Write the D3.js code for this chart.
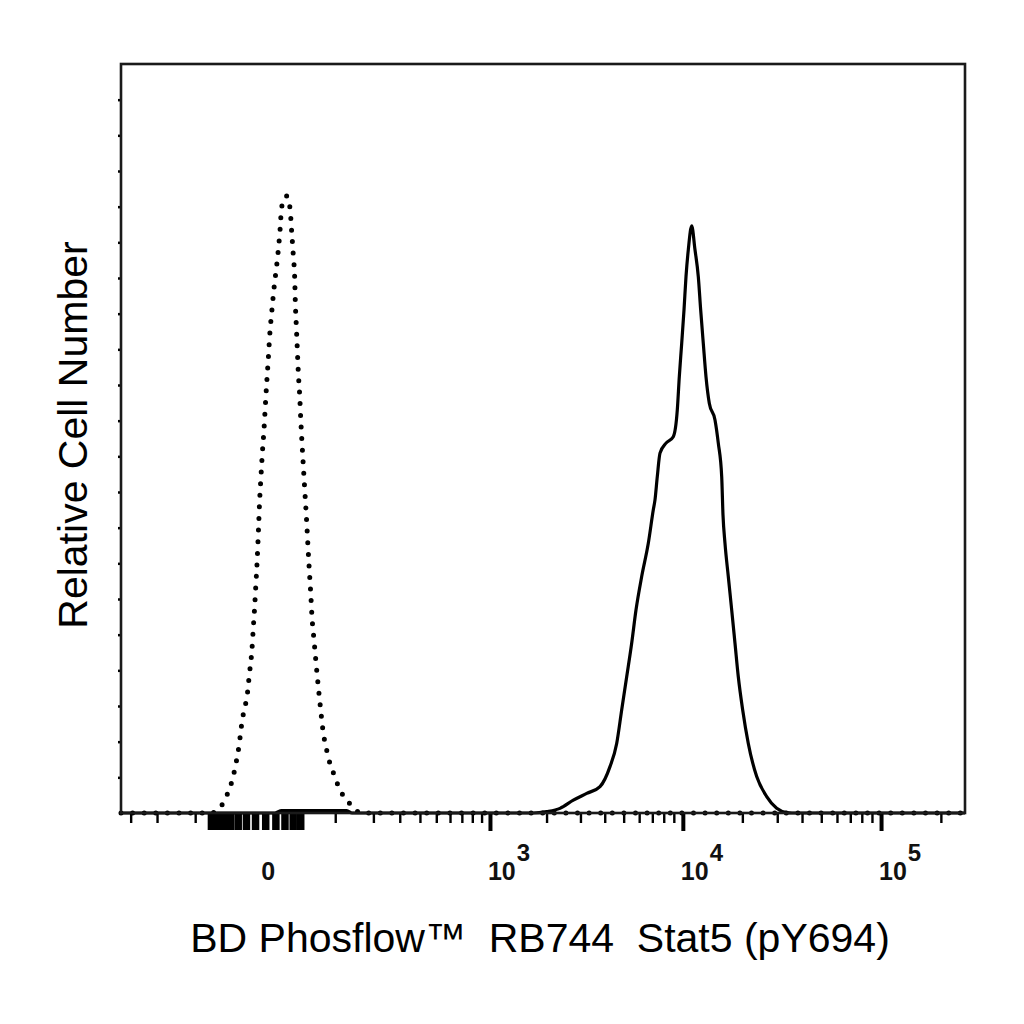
<!DOCTYPE html>
<html><head><meta charset="utf-8">
<script src="https://cdn.jsdelivr.net/npm/d3@7"></script>
<style>body{margin:0;background:#fff}svg{display:block}</style>
</head><body>
<svg id="chart" width="1024" height="1024"></svg>
<script>
// Unstimulated (dotted) histogram: fluorescence values and relative counts
const unstimValues = [-345,-68.1,-63.1,-50.0,-42.6,-37.5,-33.5,-28.4,-24.7,-21.7,-18.8,-16.2,-13.5,-11.8,-10.3,-9.0,-7.7,-6.5,-5.3,-4.0,-2.7,-1.1,0.1,1.4,2.9,4.3,6.3,8.6,11.4,13.3,15.0,16.8,22.6,26.6,28.7,30.8,32.6,33.4,34.7,36.0,37.4,39.3,40.7,42.5,44.4,46.4,49.4,51.3,53.3,55.5,57.5,60.8,64.1,68.0,72.1,76.8,81.8,86.9,94.8,103.1,114.0,129.4,149.0,159.8,264500];
const unstimCounts = [0,0,0.4,2.9,6.0,9.0,12.6,18.8,25.5,29.4,32.5,38.7,45.1,51.9,58.3,64.8,71.5,79.4,87.8,94.5,100.9,107.7,114.1,120.6,127.3,134.0,140.5,147.2,153.6,158.4,163.5,169.9,173.0,169.6,162.9,156.2,149.7,143.0,136.5,130.1,123.4,116.9,110.5,103.7,97.3,90.8,81.3,74.6,68.1,61.7,55.0,48.5,42.1,35.3,28.9,22.4,18.5,15.1,11.8,8.7,5.6,3.1,0.8,0,0];

// Stimulated (solid) histogram
const stimValues = [-345,9.6,16.8,125.6,138.6,1704,2003,2350,2755,3232,3783,4256,4606,4885,5181,5494,5779,6179,6677,7080,7222,7418,7657,8214,8946,9374,9595,9868,10136,10376,10658,11089,11524,11976,12316,12694,13102,13614,14549,15118,15729,15968,16344,16984,17672,18360,19080,20080,21432,23632,26544,29808,33480,35600,264500];
const stimCounts = [0,0,0.7,0.7,0,0,0.4,1.3,3.6,5.5,7.4,13.0,19.5,28.9,38.2,47.6,56.9,66.3,75.6,85.0,87.8,94.3,100.9,103.7,105.5,113.0,122.3,131.7,141.0,150.4,157.9,164.6,157.9,150.4,141.0,131.7,122.3,114.9,110.2,103.7,94.3,83.6,75.6,66.3,56.9,47.6,38.2,28.9,19.5,10.2,4.6,1.3,0.1,0,0];

// Axis ticks
const majorTickValues = [1000, 10000, 100000];
const zeroTickValues = [-70,-60,-50,-40,-30,-20,-10,0,10,20,30,40];
const minorTickValues = [-300,-200,-100,100,200,300,400,500,600,700,800,900,2000,3000,4000,5000,6000,7000,8000,9000,20000,30000,40000,50000,60000,70000,80000,90000,200000];
const labelValues = [0, 1000, 10000, 100000];
const labelBase = ["0", "10", "10", "10"];
const labelExp = ["", "3", "4", "5"];
const yTickValues = [10,20,30,40,50,60,70,80,90,100,110,120,130,140,150,160,170,180,190,200];

const xTitle = "BD Phosflow\u2122  RB744  Stat5 (pY694)";
const yTitle = "Relative Cell Number";

const svg = d3.select("#chart");
const L = 121, R = 965, T = 64, B = 813;
const font = "'Liberation Sans', Arial, Helvetica, sans-serif";

const x = d3.scaleSymlog().constant(80).domain([-345, 264500]).range([L, R]);
const y = d3.scaleLinear().domain([0, 210]).range([B, T]);

// ticks
const gx = svg.append("g").attr("transform", `translate(0,${B})`);
gx.append("g").call(d3.axisBottom(x).tickValues(minorTickValues).tickSize(10).tickFormat(""))
  .call(g => g.select(".domain").remove())
  .selectAll("line").attr("stroke", "#000").attr("stroke-width", 2.4);
gx.append("g").call(d3.axisBottom(x).tickValues(zeroTickValues).tickSize(17).tickFormat(""))
  .call(g => g.select(".domain").remove())
  .selectAll("line").attr("stroke", "#000").attr("stroke-width", 7.5);
gx.append("g").call(d3.axisBottom(x).tickValues(majorTickValues).tickSize(18).tickFormat(""))
  .call(g => g.select(".domain").remove())
  .selectAll("line").attr("stroke", "#000").attr("stroke-width", 4);

svg.append("g").attr("transform", `translate(${L},0)`)
  .call(d3.axisLeft(y).tickValues(yTickValues).tickSize(3).tickFormat(""))
  .call(g => g.select(".domain").remove())
  .selectAll("line").attr("stroke", "#000").attr("stroke-width", 2.5);

// tick labels
labelValues.forEach((v, i) => {
  const t = svg.append("text")
    .attr("y", 880)
    .attr("font-family", font).attr("font-size", 25).attr("font-weight", "bold").attr("fill", "#111");
  if (labelExp[i] === "") {
    t.attr("x", x(v) + 3).attr("text-anchor", "middle").text(labelBase[i]);
  } else {
    t.attr("x", x(v) - 2).attr("text-anchor", "start");
    t.append("tspan").text(labelBase[i]);
    t.append("tspan").attr("dy", -19).attr("dx", 1).attr("font-size", 24).text(labelExp[i]);
  }
});

// curves
const line = d3.line().x(d => x(d[0])).y(d => y(d[1])).curve(d3.curveMonotoneX);
const unstim = unstimValues.map((v, i) => [v, unstimCounts[i]]);
const stim = stimValues.map((v, i) => [v, stimCounts[i]]);

svg.append("path").datum(stim)
  .attr("d", line)
  .attr("fill", "none").attr("stroke", "#000").attr("stroke-width", 3.2)
  .attr("stroke-linejoin", "round");

svg.append("path").datum(unstim)
  .attr("d", line)
  .attr("fill", "none").attr("stroke", "#000").attr("stroke-width", 5)
  .attr("stroke-linecap", "round").attr("stroke-dasharray", "0 11.6");

// frame
svg.append("rect").attr("x", L).attr("y", T).attr("width", R - L).attr("height", B - T)
  .attr("fill", "none").attr("stroke", "#1a1a1a").attr("stroke-width", 2.6);

// titles
svg.append("text").attr("x", 540).attr("y", 952).attr("text-anchor", "middle")
  .attr("font-family", font).attr("font-size", 41).attr("fill", "#000")
  .style("white-space", "pre").text(xTitle);
svg.append("text").attr("transform", "translate(87,435) rotate(-90)").attr("text-anchor", "middle")
  .attr("font-family", font).attr("font-size", 41).attr("fill", "#000").text(yTitle);
</script>
</body></html>
